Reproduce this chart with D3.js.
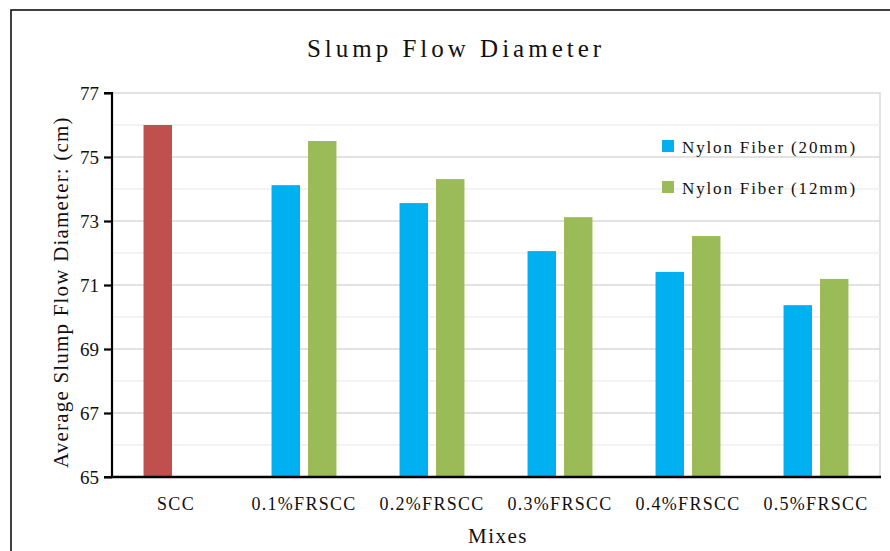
<!DOCTYPE html>
<html>
<head>
<meta charset="utf-8">
<script src="https://cdn.jsdelivr.net/npm/d3@7"></script>
<style>
  html, body { margin: 0; padding: 0; background: #fff; }
  svg { display: block; }
</style>
</head>
<body>
<svg id="chart" width="890" height="551"></svg>
<script>
// ---- data ----
const categories = ["SCC", "0.1%FRSCC", "0.2%FRSCC", "0.3%FRSCC", "0.4%FRSCC", "0.5%FRSCC"];
const seriesNames = ["Nylon Fiber (20mm)", "Nylon Fiber (12mm)"];
const nylon20 = [76.0, 74.12, 73.56, 72.06, 71.41, 70.37];
const nylon12 = [null, 75.5, 74.31, 73.12, 72.53, 71.19];
const pointColors20 = ["#C0504D", "#00B0F0", "#00B0F0", "#00B0F0", "#00B0F0", "#00B0F0"];
const seriesColors = ["#00B0F0", "#9BBB59"];
const yTicks = [65, 67, 69, 71, 73, 75, 77];
const yMinorTicks = [66, 68, 70, 72, 74, 76];
const titleText = "Slump Flow Diameter";
const xTitle = "Mixes";
const yTitle = "Average Slump Flow Diameter: (cm)";

// ---- layout ----
const FONT = "Liberation Serif, Tinos, Noto Serif, DejaVu Serif, Times New Roman, serif";
const svg = d3.select("#chart");
const plot = { left: 112, right: 880, top: 93, bottom: 477 };

const x0 = d3.scaleBand().domain(categories).range([plot.left, plot.right]).padding(0);
const x1 = d3.scaleBand().domain(seriesNames).range([0, x0.bandwidth()])
  .paddingInner(0.22).paddingOuter(0.865);
const y = d3.scaleLinear().domain([65, 77]).range([plot.bottom, plot.top]);

// outer frame
svg.append("rect").attr("x", 11).attr("y", 10).attr("width", 900).attr("height", 600)
  .attr("fill", "none").attr("stroke", "#111").attr("stroke-width", 1.6);

// plot border (top/right)
svg.append("path")
  .attr("d", `M${plot.left},${plot.top}H${plot.right}V${plot.bottom}`)
  .attr("fill", "none").attr("stroke", "#d9d9d9").attr("stroke-width", 1.5);

// minor grid
svg.append("g").selectAll("line").data(yMinorTicks).join("line")
  .attr("x1", plot.left).attr("x2", plot.right)
  .attr("y1", d => y(d)).attr("y2", d => y(d))
  .attr("stroke", "#efefef").attr("stroke-width", 1.3);
// major grid
svg.append("g").selectAll("line").data(yTicks.filter(t => t !== 65 && t !== 77)).join("line")
  .attr("x1", plot.left).attr("x2", plot.right)
  .attr("y1", d => y(d)).attr("y2", d => y(d))
  .attr("stroke", "#d9d9d9").attr("stroke-width", 1.5);

// bars
const rows = categories.map((c, i) => ({ c, i, vals: [nylon20[i], nylon12[i]] }));
const groups = svg.append("g").selectAll("g").data(rows).join("g")
  .attr("transform", d => `translate(${x0(d.c)},0)`);
groups.selectAll("rect")
  .data(d => d.vals.map((v, k) => ({ v, k, i: d.i })).filter(e => e.v != null))
  .join("rect")
  .attr("x", e => x1(seriesNames[e.k]))
  .attr("width", x1.bandwidth())
  .attr("y", e => y(e.v))
  .attr("height", e => y(65) - y(e.v))
  .attr("fill", e => e.k === 0 ? pointColors20[e.i] : seriesColors[1]);

// y axis
const yAxis = d3.axisLeft(y).tickValues(yTicks).tickSize(8).tickPadding(5).tickFormat(d3.format("d"));
const gy = svg.append("g").attr("transform", `translate(${plot.left},0)`).call(yAxis)
  .attr("font-family", FONT);
gy.select(".domain").attr("stroke", "#000").attr("stroke-width", 2.2).attr("d", `M-8,${plot.top}H0V${plot.bottom}H-8`);
gy.selectAll(".tick line").attr("stroke", "#000").attr("stroke-width", 2.2);
gy.selectAll(".tick text").attr("font-size", 19).attr("fill", "#111").attr("dy", "0.34em");

// x axis
const xAxis = d3.axisBottom(x0).tickSize(0).tickPadding(20);
const gx = svg.append("g").attr("transform", `translate(0,${plot.bottom})`).call(xAxis)
  .attr("font-family", FONT);
gx.select(".domain").attr("stroke", "#000").attr("stroke-width", 2.4).attr("d", `M${plot.left},0H${plot.right + 1}`);
gx.selectAll(".tick text").attr("font-size", 18)
  .attr("letter-spacing", "1.3px").attr("fill", "#111");

// title
svg.append("text").attr("x", 456).attr("y", 57).attr("text-anchor", "middle")
  .attr("font-family", FONT).attr("font-size", 25).attr("letter-spacing", "4px").attr("fill", "#111").text(titleText);

// x title
svg.append("text").attr("x", 498).attr("y", 543).attr("text-anchor", "middle")
  .attr("font-family", FONT).attr("font-size", 21).attr("letter-spacing", "1.5px").attr("fill", "#111").text(xTitle);

// y title
svg.append("text").attr("transform", "translate(68,468) rotate(-90)").attr("text-anchor", "start")
  .attr("font-family", FONT).attr("font-size", 21).attr("letter-spacing", "1.2px").attr("fill", "#111").text(yTitle);

// legend
const legend = svg.append("g").selectAll("g").data(seriesNames).join("g")
  .attr("transform", (d, i) => `translate(662,${140 + i * 41})`);
legend.append("rect").attr("width", 12).attr("height", 12).attr("fill", (d, i) => seriesColors[i]);
legend.append("text").attr("x", 20).attr("y", 13).attr("font-family", FONT).attr("fill", "#111")
  .attr("font-size", 17).attr("letter-spacing", "1.85px").text(d => d);
</script>
</body>
</html>
